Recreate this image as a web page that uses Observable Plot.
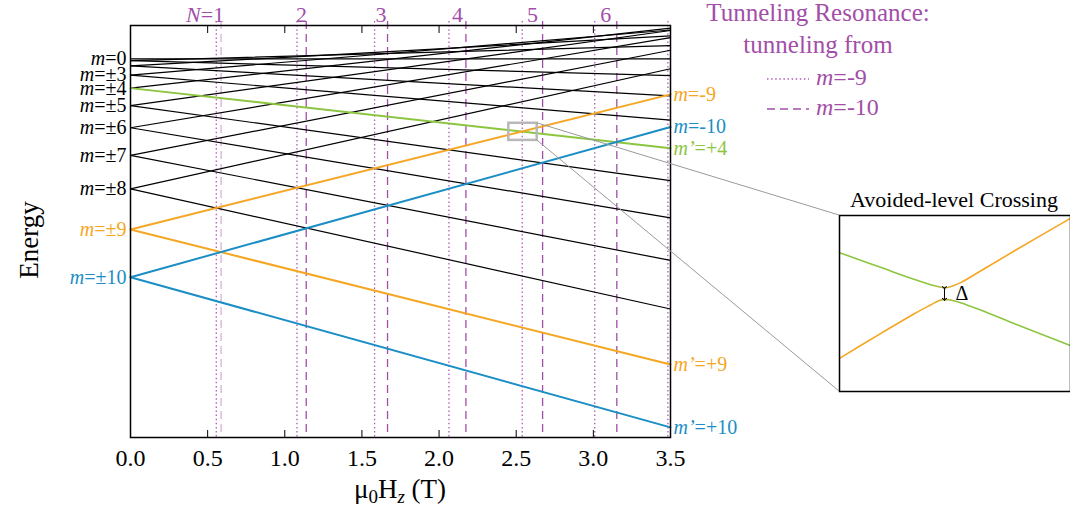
<!DOCTYPE html>
<html>
<head>
<meta charset="utf-8">
<script src="https://cdn.jsdelivr.net/npm/d3@7"></script>
<script src="https://cdn.jsdelivr.net/npm/@observablehq/plot@0.6"></script>
<style>
  body { margin: 0; background: #fff; }
  #wrap { position: relative; width: 1070px; height: 510px; overflow: hidden; background: #fff;
          font-family: "Liberation Serif", "DejaVu Serif", serif; }
  #wrap > svg { position: absolute; }
</style>
</head>
<body>
<div id="wrap"></div>
<script>
// Spin projections m of the S = 10 ground multiplet
const levelM = [-10, -9, -8, -7, -6, -5, -4, -3, -2, -1, 0, 1, 2, 3, 4, 5, 6, 7, 8, 9, 10];
// Level energies (K) at zero field ...
const energyZeroField = [-68.80, -53.76, -40.97, -30.40, -21.71, -14.72, -9.23, -5.11, -2.24, -0.56, 0,
                         -0.56, -2.24, -5.11, -9.23, -14.72, -21.71, -30.40, -40.97, -53.76, -68.80];
// ... and at the top of the field sweep
const energyHighField = [-21.50, -11.19, -3.13, 2.71, 6.67, 8.93, 9.69, 9.08, 7.22, 4.17, 0,
                         -5.29, -11.70, -19.30, -28.15, -38.37, -50.09, -63.51, -78.81, -96.33, -116.10];
const fieldRange = [0, 3.5];
const energyRange = [-119.3, 10.5];
const fieldTicks = [0, 0.5, 1, 1.5, 2, 2.5, 3, 3.5];

// Tunneling resonance fields (T)
const resonanceFromM9 = [0.556, 1.079, 1.582, 2.064, 2.539, 3.009, 3.483];
const resonanceFromM10 = [0.587, 1.139, 1.666, 2.174, 2.671, 3.152];
const resonanceLabels = ["N=1", "2", "3", "4", "5", "6"];

// Level labels
const leftLabelM = [0, 3, 4, 5, 6, 7, 8, 9, 10];
const leftLabelText = ["m=0", "m=±3", "m=±4", "m=±5", "m=±6", "m=±7", "m=±8", "m=±9", "m=±10"];
const rightLabelM = [-9, -10, 4, 9, 10];
const rightLabelText = ["m=-9", "m=-10", "m’=+4", "m’=+9", "m’=+10"];

// Window around the m=-9 / m'=+4 crossing that is magnified in the inset
const zoomField = [2.452, 2.636];
const zoomEnergy = [-25.7, -20.3];

// Inset: the two branches of the avoided crossing (arbitrary units)
const upperBranchX = [-1, -0.645, -0.356, -0.212, -0.140, -0.091, -0.039, 0.048, 0.221, 0.538, 1];
const upperBranchY = [0.578, 0.411, 0.275, 0.214, 0.191, 0.180, 0.191, 0.237, 0.369, 0.616, 0.968];
const lowerBranchX = [-1, -0.645, -0.356, -0.212, -0.140, -0.097, -0.039, 0.048, 0.221, 0.538, 1];
const lowerBranchY = [-0.623, -0.343, -0.119, -0.017, 0.032, 0.047, 0.040, 0.009, -0.074, -0.241, -0.479];

const purple = "#a24ea8";
const purpleDot = "#b35abb";
const purpleLight = "#dcbbe0";
const orange = "#f5a623";
const blue = "#1b8ec5";
const green = "#8cc540";
const serif = "Liberation Serif, DejaVu Serif, serif";

const energyOf = m => energyZeroField[levelM.indexOf(m)];
const energyEndOf = m => energyHighField[levelM.indexOf(m)];
const lineColor = m => Math.abs(m) === 10 ? blue : Math.abs(m) === 9 ? orange : m === 4 ? green : "black";
const leftColor = m => m === 10 ? blue : m === 9 ? orange : "black";

const levelSegments = levelM.flatMap((m, i) => [
  {m, field: fieldRange[0], energy: energyZeroField[i]},
  {m, field: fieldRange[1], energy: energyHighField[i]}
]);
const plainLevels = levelSegments.filter(d => lineColor(d.m) === "black");
const colorOrder = [4, -9, 9, -10, 10];
const coloredLevels = colorOrder.flatMap(m => levelSegments.filter(d => d.m === m));

const wrap = document.getElementById("wrap");

const chart = Plot.plot({
  width: 1070,
  height: 510,
  marginLeft: 130,
  marginRight: 400,
  marginTop: 25,
  marginBottom: 73,
  style: {fontFamily: serif, fontSize: "24px", background: "transparent", overflow: "visible"},
  x: {domain: fieldRange},
  y: {domain: energyRange, axis: null},
  color: {type: "identity"},
  marks: [
    Plot.ruleX(resonanceFromM9, {stroke: purpleDot, strokeWidth: 1.3, strokeDasharray: "1.5,2.6", insetTop: -4}),
    Plot.ruleX(resonanceFromM10.slice(0, 1), {stroke: purpleLight, strokeWidth: 1.5, strokeDasharray: "8,5", insetTop: -4}),
    Plot.ruleX(resonanceFromM10.slice(1), {stroke: purple, strokeWidth: 1.3, strokeDasharray: "8,5", insetTop: -4}),
    Plot.line(plainLevels, {x: "field", y: "energy", z: "m", stroke: "black", strokeWidth: 1.2}),
    Plot.line(coloredLevels, {x: "field", y: "energy", z: "m", stroke: d => lineColor(d.m), strokeWidth: 2}),
    Plot.rect([{}], {x1: zoomField[0], x2: zoomField[1], y1: zoomEnergy[0], y2: zoomEnergy[1],
                     fill: "none", stroke: "#b8b8b8", strokeWidth: 2.5}),
    Plot.frame({stroke: "black", strokeWidth: 1.5}),
    Plot.axisX(fieldTicks, {anchor: "bottom", tickSize: -7, tickPadding: 18, tickFormat: d3.format(".1f"), label: null}),
    Plot.axisX(fieldTicks, {anchor: "top", tickSize: -7, tickFormat: () => "", label: null}),
    Plot.text(leftLabelM, {x: fieldRange[0], y: energyOf, text: (d, i) => leftLabelText[i],
                           textAnchor: "end", dx: -4, fill: leftColor, fontSize: 20}),
    Plot.text(rightLabelM, {x: fieldRange[1], y: energyEndOf, text: (d, i) => rightLabelText[i],
                            textAnchor: "start", dx: 3, fill: lineColor, fontSize: 20}),
    Plot.text(resonanceLabels, {x: (d, i) => (resonanceFromM9[i] + resonanceFromM10[i]) / 2,
                                frameAnchor: "top", lineAnchor: "bottom", textAnchor: "end", dx: 5.5, dy: -4,
                                fill: purple, fontSize: 22})
  ]
});
chart.style.left = "0px";
chart.style.top = "0px";
wrap.appendChild(chart);

// Larger field tick labels
d3.select(chart).selectAll("text")
  .filter(function () { return /^\d\.\d$/.test(this.textContent); })
  .style("font-size", "24px");

// Italic quantum-number symbols (m, m’, N) in the labels
d3.select(chart).selectAll("text").each(function () {
  if (this.querySelector("tspan")) return;
  const s = this.textContent;
  const parts = /^([mN]’?)(=.*)$/.exec(s);
  if (!parts) return;
  const t = d3.select(this);
  t.text(null);
  t.append("tspan").attr("font-style", "italic").text(parts[1]);
  t.append("tspan").text(parts[2]);
});

// Inset: magnified avoided-level crossing
const upperBranch = upperBranchX.map((x, i) => ({x, y: upperBranchY[i]}));
const lowerBranch = lowerBranchX.map((x, i) => ({x, y: lowerBranchY[i]}));
const gapTop = d3.least(upperBranch, d => d.y);
const gapBottom = d3.greatest(lowerBranch, d => d.y);
const gap = {x: gapTop.x, y1: gapTop.y, y2: gapBottom.y};

function gradients() {
  const defs = d3.create("svg:defs");
  const add = (id, from, to) => {
    const g = defs.append("linearGradient").attr("id", id).attr("x1", 0).attr("x2", 1).attr("y1", 0).attr("y2", 0);
    g.append("stop").attr("offset", "40%").attr("stop-color", from);
    g.append("stop").attr("offset", "51%").attr("stop-color", to);
  };
  add("branch-upper", green, orange);
  add("branch-lower", orange, green);
  return defs.node();
}

const insetLeft = 838, insetTop = 214, insetWidth = 233, insetHeight = 178, insetMargin = 1;
const inset = Plot.plot({
  width: insetWidth,
  height: insetHeight,
  margin: insetMargin,
  style: {fontFamily: serif, fontSize: "20px", background: "white", overflow: "visible"},
  x: {domain: [-1, 1], axis: null},
  y: {domain: [-1, 1], axis: null},
  marks: [
    gradients,
    Plot.line(upperBranch, {x: "x", y: "y", curve: "catmull-rom", stroke: "url(#branch-upper)", strokeWidth: 1.6}),
    Plot.line(lowerBranch, {x: "x", y: "y", curve: "catmull-rom", stroke: "url(#branch-lower)", strokeWidth: 1.6}),
    Plot.link([gap], {x1: "x", x2: "x", y1: "y1", y2: "y2", stroke: "black", strokeWidth: 1,
                      markerStart: "arrow", markerEnd: "arrow"}),
    Plot.text([gap], {x: "x", y: d => (d.y1 + d.y2) / 2, text: () => "Δ", textAnchor: "start", dx: 11, fontSize: 20}),
    Plot.frame({stroke: "black", strokeWidth: 1.5})
  ]
});
inset.style.left = insetLeft + "px";
inset.style.top = insetTop + "px";
wrap.appendChild(inset);

// Annotations: axis titles, legend, inset title and connectors
const sx = chart.scale("x"), sy = chart.scale("y");
const boxX = sx.apply(zoomField[1]);
const boxTop = sy.apply(zoomEnergy[1]);
const boxBottom = sy.apply(zoomEnergy[0]);
const inLeft = insetLeft + insetMargin, inTop = insetTop + insetMargin, inBottom = insetTop + insetHeight - insetMargin;

const overlay = d3.create("svg")
  .attr("width", 1070).attr("height", 510)
  .style("left", "0px").style("top", "0px").style("pointer-events", "none")
  .attr("font-family", serif);

overlay.append("line").attr("x1", boxX).attr("y1", boxTop).attr("x2", inLeft).attr("y2", inTop)
  .attr("stroke", "#9a9a9a").attr("stroke-width", 1);
overlay.append("line").attr("x1", boxX).attr("y1", boxBottom).attr("x2", inLeft).attr("y2", inBottom)
  .attr("stroke", "#9a9a9a").attr("stroke-width", 1);

const xTitle = overlay.append("text").attr("x", 400).attr("y", 498).attr("text-anchor", "middle")
  .attr("font-size", 27).style("white-space", "pre");
xTitle.append("tspan").text("μ");
xTitle.append("tspan").attr("font-size", 19).attr("dy", 5).text("0");
xTitle.append("tspan").attr("dy", -5).text("H");
xTitle.append("tspan").attr("font-size", 19).attr("font-style", "italic").attr("dy", 5).text("z");
xTitle.append("tspan").attr("dy", -5).text(" (T)");

overlay.append("text").attr("transform", "translate(38,240) rotate(-90)").attr("text-anchor", "middle")
  .attr("font-size", 27).text("Energy");

overlay.append("text").attr("x", 818).attr("y", 21).attr("text-anchor", "middle").attr("font-size", 25)
  .attr("fill", purple).text("Tunneling Resonance:");
overlay.append("text").attr("x", 818).attr("y", 53).attr("text-anchor", "middle").attr("font-size", 25)
  .attr("fill", purple).text("tunneling from");

const legendRows = [
  {y: 79, dash: "1.5,2.6", color: purpleDot, label: "=-9"},
  {y: 109, dash: "8,5", color: purple, label: "=-10"}
];
legendRows.forEach(r => {
  overlay.append("line").attr("x1", 767).attr("x2", 809).attr("y1", r.y).attr("y2", r.y)
    .attr("stroke", r.color).attr("stroke-width", 1.3).attr("stroke-dasharray", r.dash);
  const t = overlay.append("text").attr("x", 816).attr("y", r.y + 6).attr("font-size", 24).attr("fill", purple);
  t.append("tspan").attr("font-style", "italic").text("m");
  t.append("tspan").text(r.label);
});

overlay.append("text").attr("x", 954).attr("y", 207).attr("text-anchor", "middle").attr("font-size", 22)
  .text("Avoided-level Crossing");

wrap.appendChild(overlay.node());
</script>
</body>
</html>
